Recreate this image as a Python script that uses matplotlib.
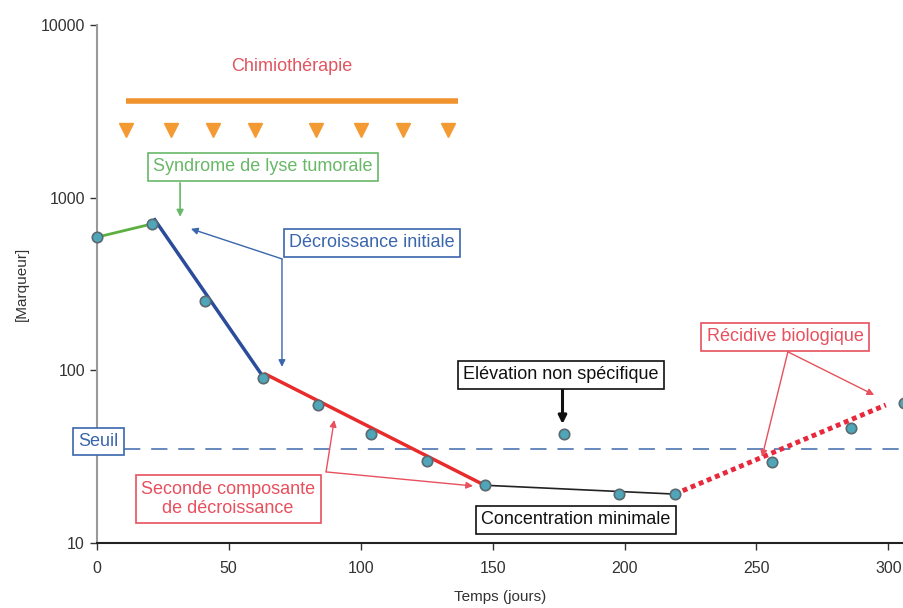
import matplotlib
matplotlib.use("Agg")
import matplotlib.pyplot as plt

plt.rcParams['font.family'] = ['Liberation Sans', 'DejaVu Sans']

# ---- data ----
days = [0, 21, 41, 63, 84, 104, 125, 147, 177, 198, 219, 256, 286, 306]
marker_vals = [590, 705, 252, 90, 63, 43, 30, 21.6, 42.6, 19.2, 19.2, 29.4, 46.6, 64.5]

lysis_x = [0, 21]
lysis_y = [590, 705]
initial_x = [22, 63]
initial_y = [745, 92]
second_x = [64, 147]
second_y = [95, 21.6]
minimal_x = [147, 219]
minimal_y = [21.6, 19.2]
relapse_x = [219, 299]
relapse_y = [19.2, 63]

threshold = 35
chemo_span = [11, 137]
chemo_level = 3640
chemo_cycles = [11, 28, 44, 60, 83, 100, 116, 133]
cycle_level = 2470

xticks = [0, 50, 100, 150, 200, 250, 300]
yticks = [10, 100, 1000, 10000]

# ---- figure ----
fig = plt.figure(figsize=(9.04, 6.08), dpi=100)
W, H = 904, 608
ax = fig.add_axes([96.7 / W, 65 / H, (904 - 96.7) / W, 518 / H])
ax.set_yscale('log')
ax.set_xlim(0, 305.9)
ax.set_ylim(10, 10000)
ax.set_xticks(xticks)
ax.set_xticklabels([str(t) for t in xticks])
ax.set_yticks(yticks)
ax.set_yticklabels([str(t) for t in yticks])
ax.yaxis.set_minor_locator(matplotlib.ticker.NullLocator())
ax.tick_params(axis='both', labelsize=11.5, length=5, width=1, colors='#333333')
ax.tick_params(axis='x', pad=8)
for s in ['top', 'right']:
    ax.spines[s].set_visible(False)
ax.spines['left'].set_color('#999999')
ax.spines['left'].set_linewidth(1.5)
ax.spines['bottom'].set_color('#222222')
ax.spines['bottom'].set_linewidth(1.5)
ax.set_xlabel('Temps (jours)', fontsize=11, color='#333333', labelpad=10)
ax.set_ylabel('[Marqueur]', fontsize=11, color='#333333')
ax.yaxis.set_label_coords(-0.084, 0.5)

# threshold
ax.axhline(threshold, color='#5b7fb8', lw=1.3, dashes=(9, 6), zorder=1)

# fitted segments
ax.plot(lysis_x, lysis_y, color='#5cb040', lw=2, zorder=2)
ax.plot(initial_x, initial_y, color='#2b4c9b', lw=2.5, zorder=2)
ax.plot(second_x, second_y, color='#e82c2c', lw=2.5, zorder=2)
ax.plot(minimal_x, minimal_y, color='#222222', lw=1.2, zorder=2)
ax.plot(relapse_x, relapse_y, color='#e8283c', lw=3.5, ls=(0, (1, 0.8)), zorder=2)

# measured points
ax.plot(days, marker_vals, ls='none', marker='o', ms=7.5, mfc='#4ea6b8',
        mec='#5a6a70', mew=1.2, zorder=3, clip_on=False)

# chemotherapy
ax.plot(chemo_span, [chemo_level, chemo_level], color='#f0922e', lw=4,
        solid_capstyle='butt')
ax.plot(chemo_cycles, [cycle_level] * len(chemo_cycles), ls='none',
        marker='v', ms=10, color='#f39a33')
ax.text(74, 5730, 'Chimiothérapie', color='#e05560', fontsize=13,
        ha='center', va='center')

def box(x, y, txt, color, fs=13, tc=None):
    ax.text(x, y, txt, color=tc or color, fontsize=fs, ha='center', va='center',
            multialignment='center', linespacing=1.2,
            bbox=dict(boxstyle='square,pad=0.3', fc='white', ec=color, lw=1.2),
            zorder=5)

def arrow(x0, y0, x1, y1, color, lw=1.0, ms=10):
    ax.annotate('', xy=(x1, y1), xytext=(x0, y0),
                arrowprops=dict(arrowstyle='-|>', color=color, lw=lw,
                                mutation_scale=ms, shrinkA=0, shrinkB=0),
                zorder=4)

green = '#68b868'
blue = '#3a66ad'
red = '#e8505e'

box(63, 1507, 'Syndrome de lyse tumorale', green)
arrow(31.6, 1219, 31.6, 774, green, lw=1.2)

box(104.3, 547, 'Décroissance initiale', blue)
arrow(70.2, 442, 35.7, 660, blue)
arrow(70.2, 442, 70.2, 104.7, blue)

box(175.9, 94, 'Elévation non spécifique', '#111111')
arrow(176.5, 77, 176.5, 48.9, '#111111', lw=2.2, ms=12)

box(0.7, 38.7, 'Seuil', blue, fs=13)

box(49.8, 18.0, 'Seconde composante\nde décroissance', red)
arrow(86.9, 25.8, 90.0, 51.6, red)
arrow(86.9, 25.8, 142.6, 21.4, red)

box(181.6, 13.6, 'Concentration minimale', '#111111')

box(260.8, 156, 'Récidive biologique', red)
arrow(261.9, 128, 252.1, 31.5, red)
arrow(261.9, 128, 294.6, 72, red)

fig.savefig('out.png', dpi=100)
